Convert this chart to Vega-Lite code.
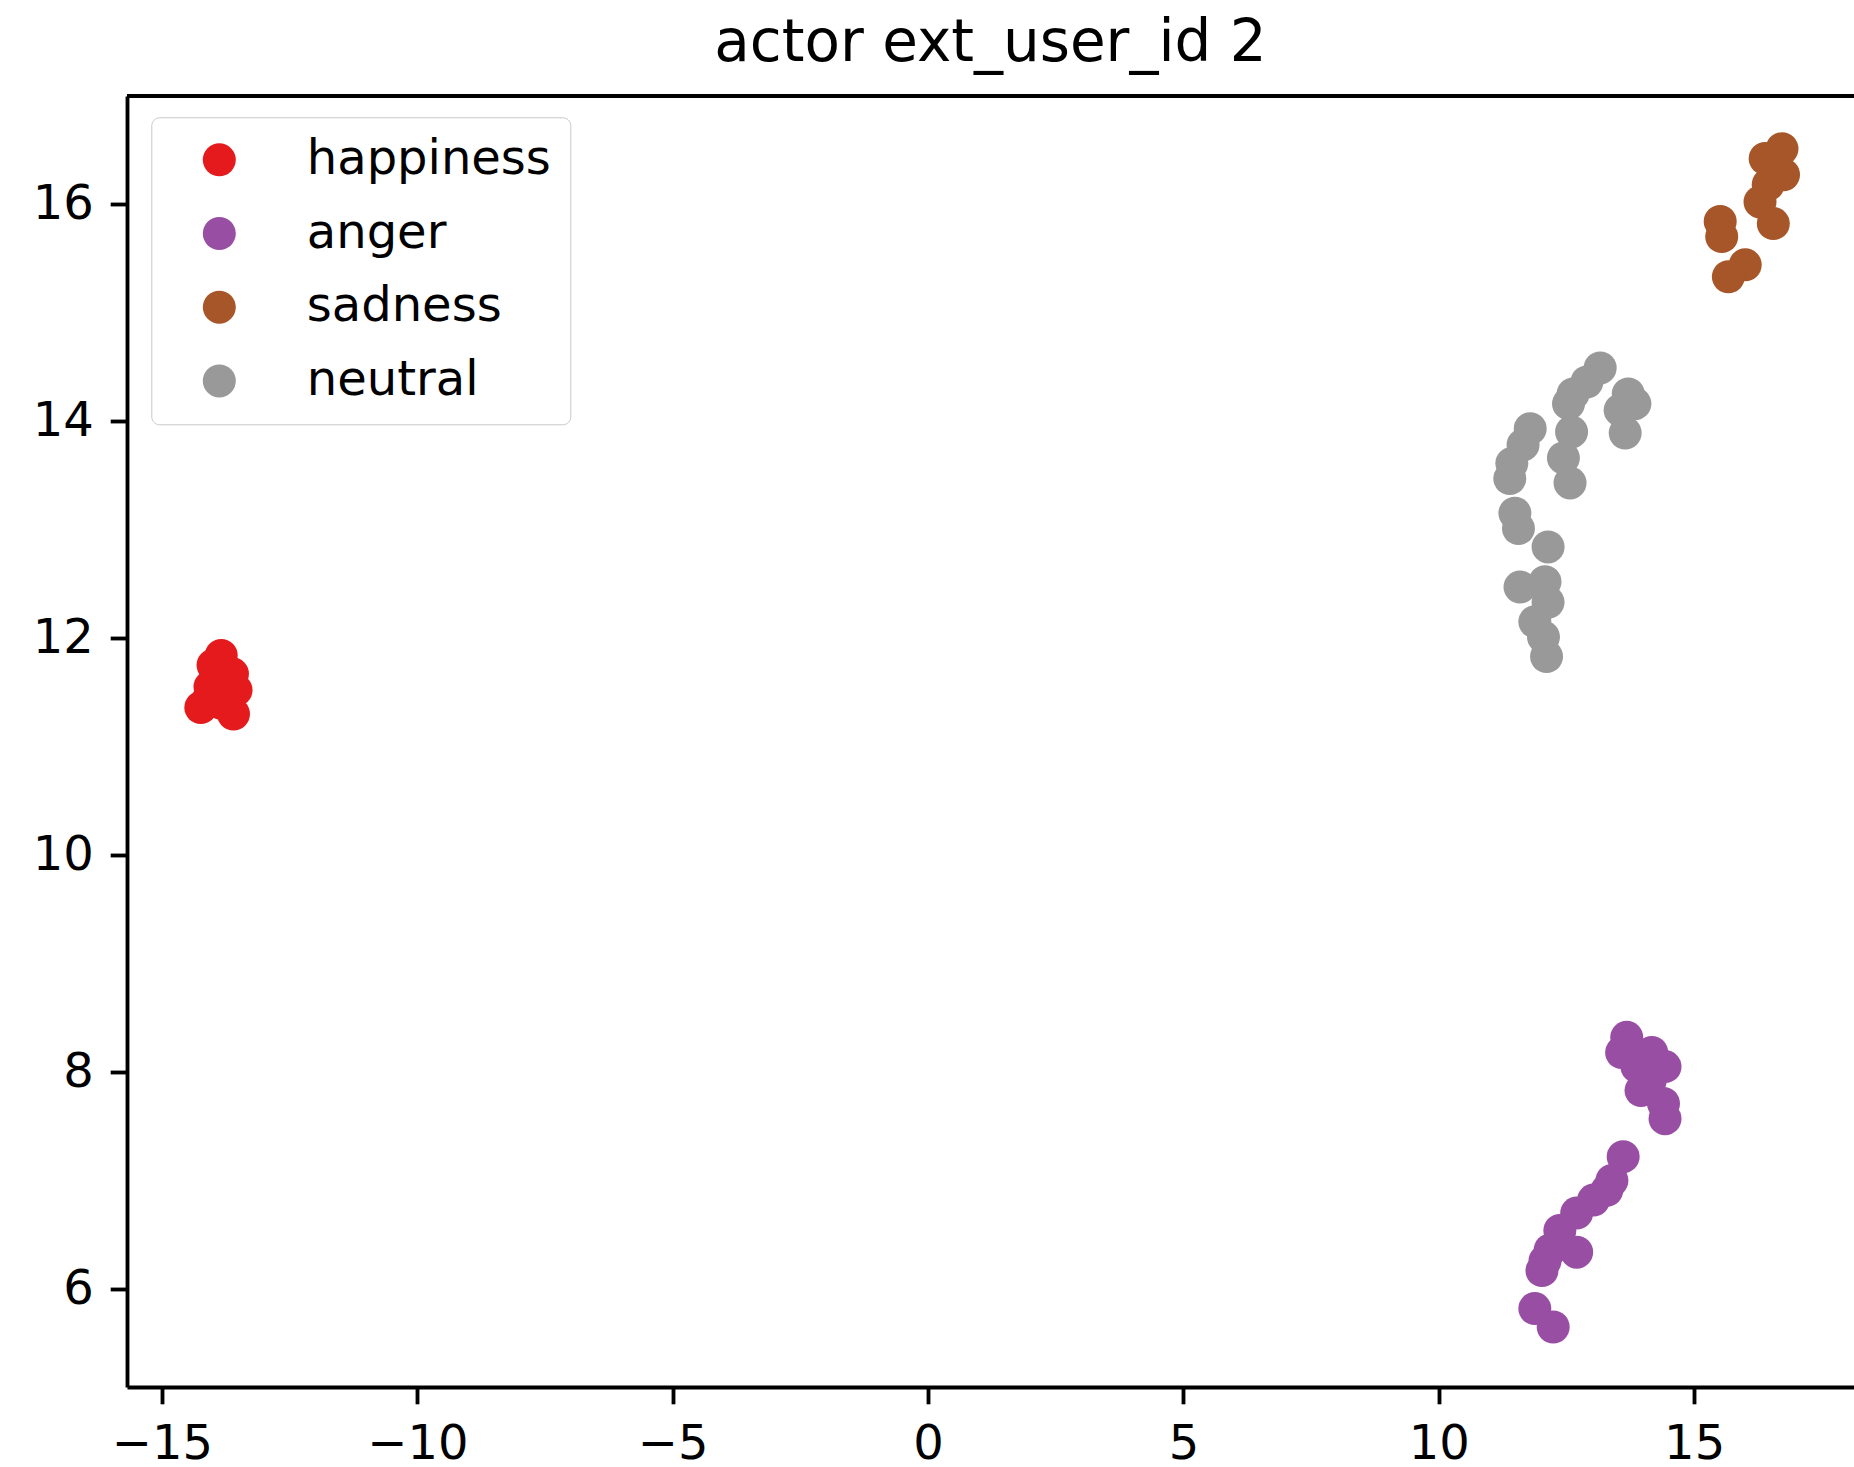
{
  "$schema": "https://vega.github.io/schema/vega-lite/v6.json",
  "width": 1727,
  "height": 1291,
  "autosize": {"type": "none"},
  "padding": {"left": 127, "top": 96, "right": 0, "bottom": 80},
  "background": "white",
  "title": {"text": "actor ext_user_id 2", "fontSize": 58, "font": "DejaVu Sans", "fontWeight": "normal", "color": "black", "anchor": "middle", "baseline": "bottom", "offset": 22, "dy": 59},
  "config": {"view": {"stroke": null}, "font": "DejaVu Sans"},
  "data": {"values": [
    {"emotion": "happiness", "x": -13.84, "y": 11.84},
    {"emotion": "happiness", "x": -14.00, "y": 11.75},
    {"emotion": "happiness", "x": -13.62, "y": 11.67},
    {"emotion": "happiness", "x": -13.80, "y": 11.62},
    {"emotion": "happiness", "x": -13.95, "y": 11.65},
    {"emotion": "happiness", "x": -14.06, "y": 11.55},
    {"emotion": "happiness", "x": -13.55, "y": 11.52},
    {"emotion": "happiness", "x": -14.10, "y": 11.43},
    {"emotion": "happiness", "x": -14.24, "y": 11.36},
    {"emotion": "happiness", "x": -13.84, "y": 11.40},
    {"emotion": "happiness", "x": -13.60, "y": 11.30},
    {"emotion": "anger", "x": 13.68, "y": 8.32},
    {"emotion": "anger", "x": 13.58, "y": 8.18},
    {"emotion": "anger", "x": 14.17, "y": 8.18},
    {"emotion": "anger", "x": 14.43, "y": 8.05},
    {"emotion": "anger", "x": 13.88, "y": 8.05},
    {"emotion": "anger", "x": 14.14, "y": 7.92},
    {"emotion": "anger", "x": 13.96, "y": 7.83},
    {"emotion": "anger", "x": 14.40, "y": 7.71},
    {"emotion": "anger", "x": 14.43, "y": 7.57},
    {"emotion": "anger", "x": 13.61, "y": 7.22},
    {"emotion": "anger", "x": 13.39, "y": 7.00},
    {"emotion": "anger", "x": 13.29, "y": 6.91},
    {"emotion": "anger", "x": 13.03, "y": 6.82},
    {"emotion": "anger", "x": 12.70, "y": 6.70},
    {"emotion": "anger", "x": 12.37, "y": 6.54},
    {"emotion": "anger", "x": 12.70, "y": 6.34},
    {"emotion": "anger", "x": 12.18, "y": 6.36},
    {"emotion": "anger", "x": 12.08, "y": 6.26},
    {"emotion": "anger", "x": 12.02, "y": 6.17},
    {"emotion": "anger", "x": 11.88, "y": 5.82},
    {"emotion": "anger", "x": 12.24, "y": 5.65},
    {"emotion": "sadness", "x": 16.72, "y": 16.51},
    {"emotion": "sadness", "x": 16.39, "y": 16.42},
    {"emotion": "sadness", "x": 16.75, "y": 16.27},
    {"emotion": "sadness", "x": 16.45, "y": 16.18},
    {"emotion": "sadness", "x": 16.29, "y": 16.02},
    {"emotion": "sadness", "x": 16.55, "y": 15.82},
    {"emotion": "sadness", "x": 15.51, "y": 15.84},
    {"emotion": "sadness", "x": 15.54, "y": 15.70},
    {"emotion": "sadness", "x": 16.00, "y": 15.44},
    {"emotion": "sadness", "x": 15.67, "y": 15.33},
    {"emotion": "neutral", "x": 13.16, "y": 14.49},
    {"emotion": "neutral", "x": 12.90, "y": 14.36},
    {"emotion": "neutral", "x": 12.63, "y": 14.25},
    {"emotion": "neutral", "x": 12.54, "y": 14.16},
    {"emotion": "neutral", "x": 13.71, "y": 14.25},
    {"emotion": "neutral", "x": 13.84, "y": 14.16},
    {"emotion": "neutral", "x": 13.55, "y": 14.10},
    {"emotion": "neutral", "x": 13.65, "y": 13.89},
    {"emotion": "neutral", "x": 12.60, "y": 13.90},
    {"emotion": "neutral", "x": 12.44, "y": 13.66},
    {"emotion": "neutral", "x": 12.57, "y": 13.43},
    {"emotion": "neutral", "x": 11.79, "y": 13.93},
    {"emotion": "neutral", "x": 11.65, "y": 13.78},
    {"emotion": "neutral", "x": 11.43, "y": 13.61},
    {"emotion": "neutral", "x": 11.39, "y": 13.47},
    {"emotion": "neutral", "x": 11.49, "y": 13.15},
    {"emotion": "neutral", "x": 11.56, "y": 13.01},
    {"emotion": "neutral", "x": 12.14, "y": 12.84},
    {"emotion": "neutral", "x": 11.59, "y": 12.47},
    {"emotion": "neutral", "x": 12.08, "y": 12.52},
    {"emotion": "neutral", "x": 12.14, "y": 12.33},
    {"emotion": "neutral", "x": 11.88, "y": 12.15},
    {"emotion": "neutral", "x": 12.05, "y": 12.01},
    {"emotion": "neutral", "x": 12.11, "y": 11.83}
  ]},
  "layer": [
    {
      "mark": {"type": "point", "filled": true, "shape": "circle", "size": 1089, "opacity": 1, "strokeWidth": 0},
      "encoding": {
        "x": {"field": "x", "type": "quantitative",
          "scale": {"domain": [-15.685, 18.13], "nice": false, "zero": false},
          "axis": {"values": [-15, -10, -5, 0, 5, 10, 15], "title": null, "grid": false, "labelFontSize": 48, "labelFont": "DejaVu Sans", "labelColor": "black", "tickColor": "black", "tickSize": 16.8, "tickWidth": 3.84, "domainColor": "black", "domainWidth": 3.84, "labelPadding": 17, "labelFlush": false, "labelOverlap": false}},
        "y": {"field": "y", "type": "quantitative",
          "scale": {"domain": [5.097, 16.996], "nice": false, "zero": false},
          "axis": {"values": [6, 8, 10, 12, 14, 16], "format": "d", "title": null, "grid": false, "labelFontSize": 48, "labelFont": "DejaVu Sans", "labelColor": "black", "tickColor": "black", "tickSize": 16.8, "tickWidth": 3.84, "domainColor": "black", "domainWidth": 3.84, "labelPadding": 16.8, "labelFlush": false, "labelOverlap": false}},
        "color": {"field": "emotion", "type": "nominal",
          "scale": {"domain": ["happiness", "anger", "sadness", "neutral"], "range": ["#e41a1c", "#984ea3", "#a65628", "#999999"]},
          "legend": {"title": null, "orient": "none", "legendX": 24.3, "legendY": 21.3, "labelFontSize": 48, "labelFont": "DejaVu Sans", "labelColor": "black", "symbolSize": 1089, "symbolType": "circle", "symbolStrokeWidth": 0, "symbolOpacity": 1, "padding": 18.5, "symbolOffset": 25.5, "labelOffset": 63.5, "rowPadding": 25.7, "strokeColor": "#c8c8c8", "fillColor": "rgba(255,255,255,0.8)", "cornerRadius": 8, "labelLimit": 0}}
      }
    },
    {
      "data": {"values": [{}]},
      "mark": {"type": "rule", "color": "black", "strokeWidth": 3.84},
      "encoding": {"y": {"datum": 16.996}}
    }
  ]
}
